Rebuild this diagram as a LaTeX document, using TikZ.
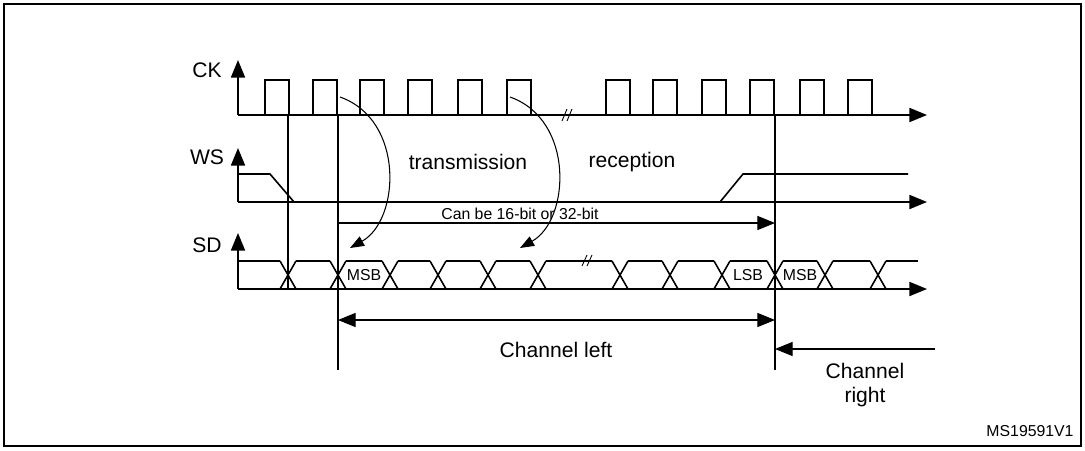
\documentclass[tikz,border=0pt]{standalone}
\usepackage{fontspec}
\setmainfont{Liberation Sans}
\usetikzlibrary{arrows.meta}
\begin{document}
\begin{tikzpicture}[x=0.02cm,y=-0.02cm,line width=0.9pt,
    axis/.style={-{Triangle[length=10pt,width=8pt]}},
    lbl/.style={font=\fontsize{12}{14}\selectfont},
    bit/.style={font=\fontsize{9}{10}\selectfont, inner sep=1pt}]
            \useasboundingbox (0,0) rectangle (1085,450);
            \draw [line width=0.6pt] (4,4) rectangle (1081,446);
            % labels
            \node [lbl] (ck) at (207,70) {CK};
            \node [lbl] (ws) at (207,157) {WS};
            \node [lbl] (sd) at (207,245) {SD};
            % CK
            \draw [axis] (238,115) -- (238,60);
            \draw [axis] (238,115) -- (927,115);
            \foreach \x in {265,313,360,408,458,507,606,653,702,750,800,848}
              \draw (\x,115) -- (\x,80) -- (\x+24,80) -- (\x+24,115);
            \draw [line width=0.5pt] (562,121) -- (567,109) (567,121) -- (572,109);
            % WS
            \draw [axis] (238,202) -- (238,148);
            \draw [axis] (238,202) -- (927,202);
            \draw (238,174) -- (270,174) -- (294,202);
            \draw (720,202) -- (743,174) -- (908,174);
            % SD
            \draw [axis] (238,289) -- (238,233);
            \draw [axis] (238,289) -- (927,289);
            \draw (238,261) -- (280,261);
            \foreach \x in {288,338,390,438,488,538,620,670,722,775,825,878}
              \draw (\x-8,261) -- (\x+8,289) (\x-8,289) -- (\x+8,261);
            \foreach \a/\b in {288/338,338/390,390/438,438/488,488/538,538/620,620/670,670/722,722/775,775/825,825/878}
              \draw (\a+8,261) -- (\b-8,261);
            \draw (886,261) -- (918,261);
            \draw [line width=0.5pt] (582,266) -- (587,255) (587,266) -- (592,255);
            \node [bit] (msb1) at (364,275) {MSB};
            \node [bit] (lsb) at (748,275) {LSB};
            \node [bit] (msb2) at (800,275) {MSB};
            % frame markers
            \coordinate (a1) at (288,115);
            \coordinate (a2) at (288,290);
            \coordinate (b1) at (338,115);
            \coordinate (b2) at (338,370);
            \coordinate (c1) at (775,115);
            \coordinate (c2) at (775,370);
            \draw [line width=0.6pt] (a1) -- (a2) (b1) -- (b2) (c1) -- (c2);
            % word length
            \coordinate (w1) at (338,223);
            \coordinate (w2) at (775,223);
            \draw [axis, line width=0.6pt] (w1) -- (w2);
            \node [bit] (len) at (520,214) {Can be 16-bit or 32-bit};
            % sampling edges
            \coordinate (t1) at (340,97);
            \coordinate (t2) at (350,248);
            \coordinate (r1) at (510,97);
            \coordinate (r2) at (520,248);
            \draw [-{Triangle[length=8pt,width=6pt]}, line width=0.6pt] (t1) .. controls (405,120) and (400,220) .. (t2);
            \draw [-{Triangle[length=8pt,width=6pt]}, line width=0.6pt] (r1) .. controls (575,120) and (570,220) .. (r2);
            \node [lbl] (tx) at (468,162) {transmission};
            \node [lbl] (rx) at (632,162) {reception};
            % channels
            \coordinate (l1) at (338,320);
            \coordinate (l2) at (775,320);
            \draw [{Triangle[length=10pt,width=8pt]}-{Triangle[length=10pt,width=8pt]}, line width=0.6pt] (l1) -- (l2);
            \node [lbl] (left) at (556,350) {Channel left};
            \coordinate (r0) at (935,349);
            \coordinate (r3) at (775,349);
            \draw [axis, line width=0.6pt] (r0) -- (r3);
            \node [lbl, align=center] (right) at (865,385) {Channel\\right};
            \node [bit] (ref) at (1030,431) {MS19591V1};
\end{tikzpicture}
\end{document}
